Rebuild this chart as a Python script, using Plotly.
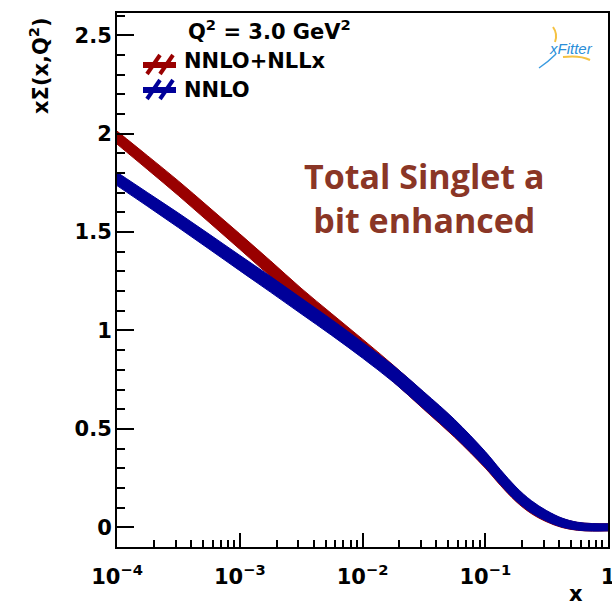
import plotly.graph_objects as go

# ---------------- data ----------------
x_vals = [1e-4, 1.78e-4, 3.16e-4, 5.62e-4, 1e-3, 1.78e-3, 3.16e-3, 5.62e-3, 1e-2,
          1.78e-2, 3.16e-2, 5.62e-2, 1e-1, 1.33e-1, 1.78e-1, 2.37e-1, 3.16e-1,
          4.22e-1, 5.62e-1, 7.5e-1, 1.0]
nnlo_nllx = [1.98, 1.852, 1.723, 1.588, 1.452, 1.314, 1.175, 1.045, 0.915,
             0.782, 0.642, 0.501, 0.341, 0.251, 0.166, 0.101, 0.055,
             0.022, 0.005, 0.0, 0.0]
nnlo_nllx_err = [0.033, 0.035, 0.037, 0.038, 0.039, 0.040, 0.040, 0.040, 0.041,
                 0.042, 0.043, 0.043, 0.040, 0.038, 0.035, 0.031, 0.027,
                 0.023, 0.020, 0.019, 0.018]
nnlo = [1.77, 1.665, 1.56, 1.452, 1.343, 1.235, 1.125, 1.015, 0.90,
        0.78, 0.645, 0.505, 0.345, 0.255, 0.17, 0.105, 0.058,
        0.024, 0.006, 0.0, 0.0]
nnlo_err = [0.034, 0.035, 0.037, 0.038, 0.039, 0.040, 0.040, 0.040, 0.040,
            0.042, 0.043, 0.043, 0.040, 0.038, 0.035, 0.031, 0.027,
            0.023, 0.020, 0.019, 0.018]

x_tickvals = [1e-4, 1e-3, 1e-2, 1e-1, 1]
x_ticktext = ["10<sup>\u22124</sup>", "10<sup>\u22123</sup>", "10<sup>\u22122</sup>",
              "10<sup>\u22121</sup>", "1"]
y_tickvals = [0, 0.5, 1, 1.5, 2, 2.5]
y_ticktext = ["0", "0.5", "1", "1.5", "2", "2.5"]

series_names = ["NNLO+NLLx", "NNLO"]
series_colors = ["#990000", "#000099"]
header_text = "Q<sup>2</sup> = 3.0 GeV<sup>2</sup>"
note_text = "Total Singlet a<br>bit enhanced"

# ---------------- layout geometry (pixels) ----------------
W, H = 612, 606
L, R, T, B = 117, 608, 13, 547


def px(x):
    return (x - L) / (R - L)


def py(y):
    return (B - y) / (B - T)


FONT = "DejaVu Sans"

fig = go.Figure()

for vals, errs, col in [(nnlo_nllx, nnlo_nllx_err, series_colors[0]),
                        (nnlo, nnlo_err, series_colors[1])]:
    lo = [v - e for v, e in zip(vals, errs)]
    hi = [v + e for v, e in zip(vals, errs)]
    fig.add_trace(go.Scatter(x=x_vals, y=lo, mode="lines",
                             line=dict(color=col, width=1, shape="spline"),
                             hoverinfo="skip", showlegend=False))
    fig.add_trace(go.Scatter(x=x_vals, y=hi, mode="lines", fill="tonexty",
                             fillcolor=col,
                             line=dict(color=col, width=1, shape="spline"),
                             hoverinfo="skip", showlegend=False))

shapes = []
# legend symbols (hatched band markers)
for yc, col in [(65, series_colors[0]), (90, series_colors[1])]:
    shapes.append(dict(type="line", xref="paper", yref="paper",
                       x0=px(143), x1=px(176), y0=py(yc), y1=py(yc),
                       line=dict(color=col, width=6)))
    for xs in (147, 160):
        shapes.append(dict(type="line", xref="paper", yref="paper",
                           x0=px(xs), x1=px(xs + 13), y0=py(yc + 9), y1=py(yc - 10),
                           line=dict(color=col, width=4)))

# small xFitter logo decorations
shapes.append(dict(type="path", xref="paper", yref="paper",
                   path=f"M {px(553)},{py(27)} Q {px(558)},{py(34)} {px(555)},{py(42)}",
                   line=dict(color="#f5c242", width=2)))
shapes.append(dict(type="path", xref="paper", yref="paper",
                   path=f"M {px(563)},{py(57)} Q {px(580)},{py(55)} {px(590)},{py(60)}",
                   line=dict(color="#f5c242", width=2)))
shapes.append(dict(type="path", xref="paper", yref="paper",
                   path=f"M {px(556)},{py(54)} Q {px(548)},{py(62)} {px(539)},{py(68)}",
                   line=dict(color="#3a9be0", width=1.5)))

annotations = [
    dict(text=header_text, x=px(186), y=py(30), xref="paper", yref="paper",
         xanchor="left", yanchor="middle", showarrow=False,
         font=dict(family=FONT, size=21, color="black", weight="bold")),
    dict(text=series_names[0], x=px(182), y=py(61), xref="paper", yref="paper",
         xanchor="left", yanchor="middle", showarrow=False,
         font=dict(family=FONT, size=21, color="black", weight="bold")),
    dict(text=series_names[1], x=px(182), y=py(90), xref="paper", yref="paper",
         xanchor="left", yanchor="middle", showarrow=False,
         font=dict(family=FONT, size=21, color="black", weight="bold")),
    dict(text=note_text, x=px(424), y=py(198), xref="paper", yref="paper",
         xanchor="center", yanchor="middle", showarrow=False, align="center",
         font=dict(family="Open Sans", size=34, color="#8a3626", weight="bold")),
    dict(text="<i>xFitter</i>", x=px(571), y=py(48), xref="paper", yref="paper",
         xanchor="center", yanchor="middle", showarrow=False,
         font=dict(family="Liberation Sans", size=15, color="#2a8ed8")),
    dict(text="x\u03a3(x,Q<sup>2</sup>)", x=px(39), y=py(66), xref="paper", yref="paper",
         xanchor="center", yanchor="middle", showarrow=False, textangle=-90,
         font=dict(family=FONT, size=21, color="black", weight="bold")),
    dict(text="x", x=px(576), y=py(594), xref="paper", yref="paper",
         xanchor="center", yanchor="middle", showarrow=False,
         font=dict(family=FONT, size=21, color="black", weight="bold")),
]

fig.update_layout(
    width=W, height=H,
    margin=dict(l=L, r=W - R, t=T, b=H - B, pad=0, autoexpand=False),
    paper_bgcolor="white", plot_bgcolor="white",
    showlegend=False,
    shapes=shapes, annotations=annotations,
    xaxis=dict(type="log", range=[-4, 0], showgrid=False, zeroline=False,
               showline=True, linecolor="black", linewidth=2, mirror=True,
               automargin=False,
               ticks="inside", ticklen=14, tickwidth=2, tickcolor="black",
               tickvals=x_tickvals, ticktext=x_ticktext, ticklabelstandoff=10,
               ticklabeloverflow="allow",
               tickfont=dict(family=FONT, size=21, color="black", weight="bold"),
               minor=dict(ticks="inside", ticklen=7, tickwidth=2, tickcolor="black",
                          dtick="D1", showgrid=False)),
    yaxis=dict(range=[-0.10, 2.613], showgrid=False, zeroline=False,
               showline=True, linecolor="black", linewidth=2, mirror=True,
               automargin=False,
               ticks="inside", ticklen=17, tickwidth=2, tickcolor="black",
               tickvals=y_tickvals, ticktext=y_ticktext, ticklabelstandoff=-1,
               ticklabeloverflow="allow",
               tickfont=dict(family=FONT, size=21, color="black", weight="bold"),
               minor=dict(ticks="inside", ticklen=8, tickwidth=2, tickcolor="black",
                          dtick=0.1, tick0=0, showgrid=False)),
)

fig.write_html("out.html")
